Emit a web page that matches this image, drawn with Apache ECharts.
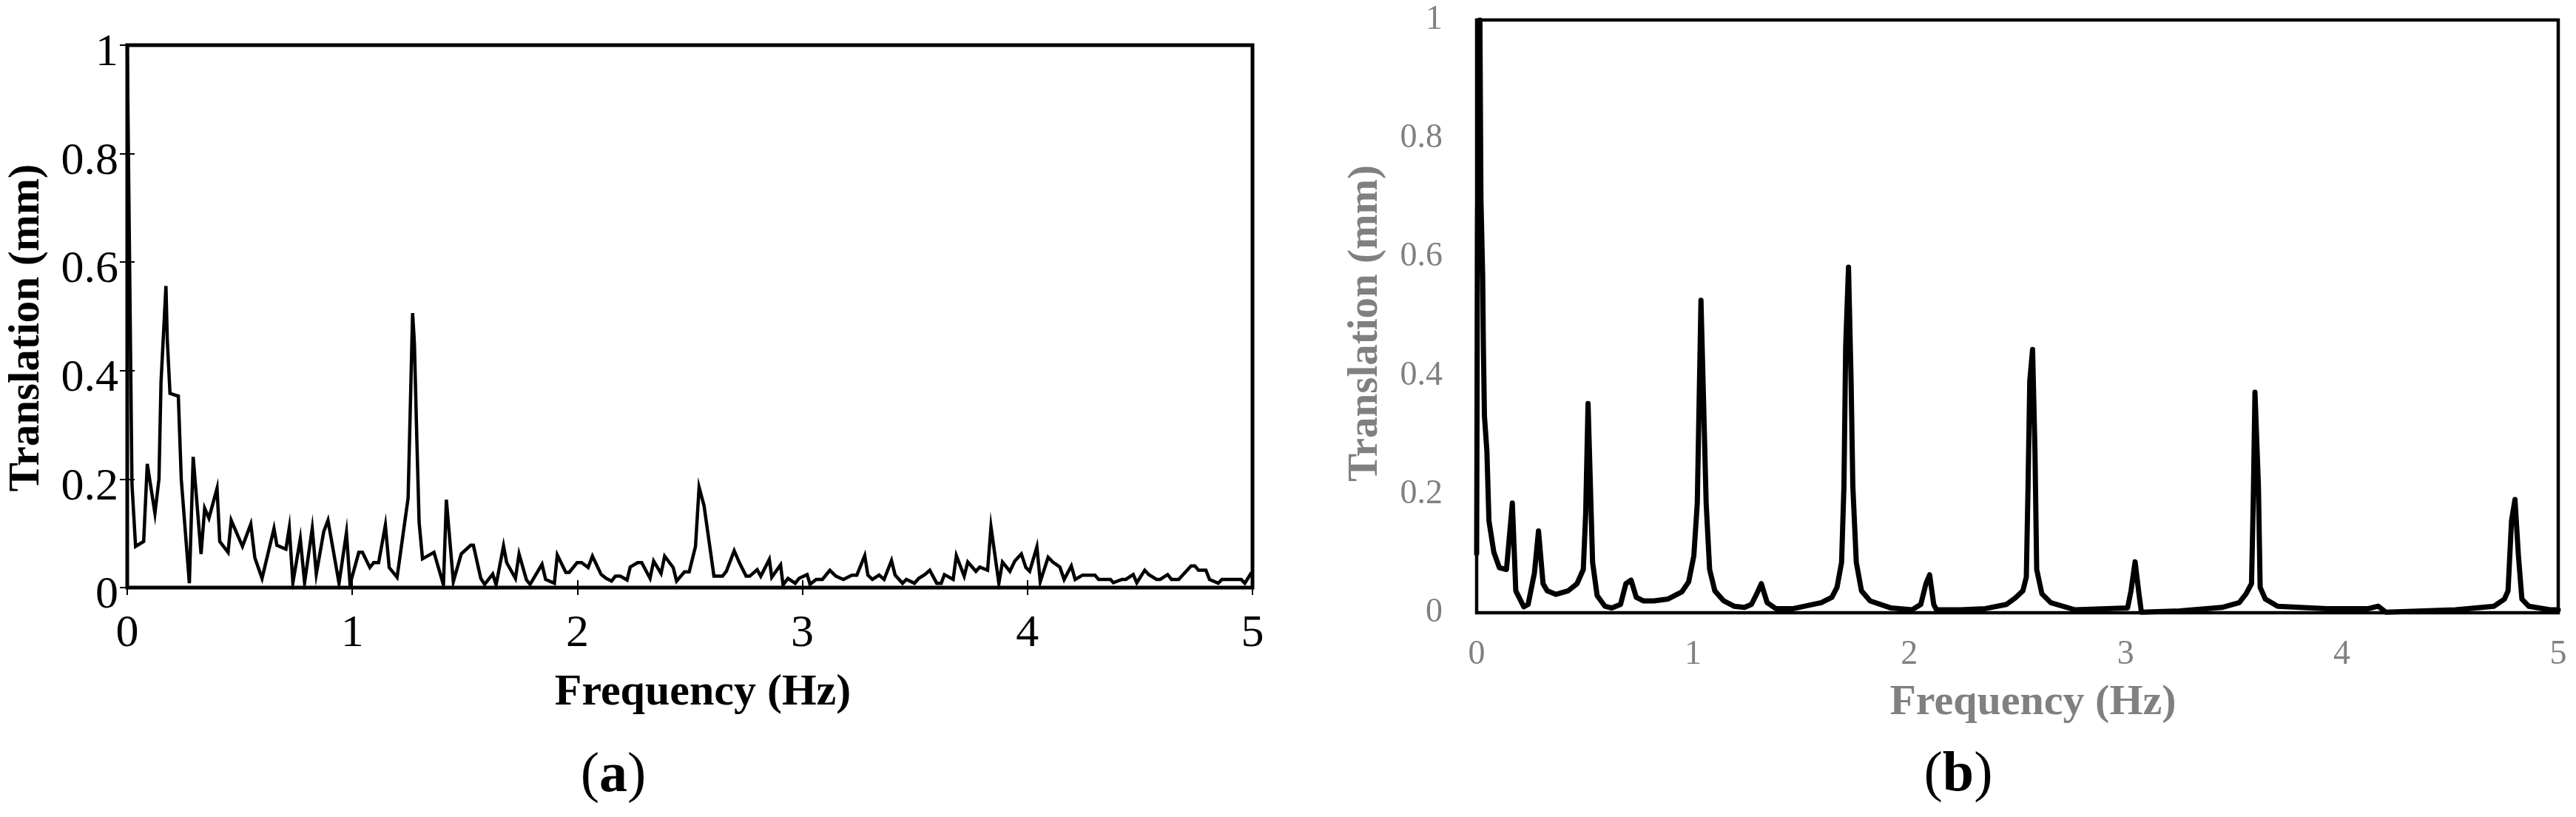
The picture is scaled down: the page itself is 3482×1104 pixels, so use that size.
<!DOCTYPE html>
<html>
<head>
<meta charset="utf-8">
<script src="https://cdn.jsdelivr.net/npm/echarts@6/dist/echarts.min.js"></script>
<style>
html,body{margin:0;padding:0;background:#fff;}
#chart{width:3482px;height:1104px;}
</style>
</head>
<body>
<div id="chart"></div>
<script>
// ---- Panel (a): measured spectrum ----
const freqA = [0,0.021,0.037,0.073,0.089,0.123,0.141,0.150,0.172,0.178,0.19,0.227,0.24,0.276,0.293,0.328,0.344,0.363,0.399,0.411,0.448,0.462,0.512,0.549,0.567,0.599,0.652,0.665,0.705,0.72,0.736,0.769,0.788,0.822,0.84,0.873,0.892,0.941,0.974,0.99,1.029,1.045,1.078,1.095,1.117,1.147,1.164,1.199,1.248,1.268,1.276,1.287,1.297,1.312,1.363,1.405,1.418,1.449,1.484,1.526,1.538,1.571,1.588,1.624,1.639,1.672,1.686,1.725,1.741,1.774,1.79,1.843,1.859,1.898,1.911,1.949,1.964,1.999,2.019,2.048,2.067,2.106,2.128,2.152,2.169,2.191,2.221,2.235,2.268,2.286,2.323,2.339,2.372,2.388,2.426,2.441,2.476,2.497,2.525,2.541,2.563,2.607,2.645,2.662,2.697,2.72,2.75,2.766,2.799,2.815,2.853,2.864,2.903,2.914,2.936,2.968,2.985,3.021,3.034,3.061,3.089,3.122,3.149,3.182,3.22,3.242,3.277,3.291,3.311,3.341,3.363,3.396,3.412,3.445,3.462,3.498,3.517,3.544,3.566,3.597,3.617,3.631,3.670,3.684,3.719,3.735,3.771,3.788,3.823,3.838,3.873,3.889,3.922,3.944,3.973,3.993,4.01,4.042,4.057,4.092,4.113,4.144,4.163,4.195,4.212,4.245,4.3,4.316,4.369,4.382,4.42,4.437,4.47,4.486,4.521,4.539,4.574,4.59,4.623,4.64,4.672,4.727,4.744,4.76,4.793,4.809,4.848,4.864,4.95,4.966,4.996];
const ampA = [1.0,0.19,0.076,0.085,0.228,0.137,0.20,0.378,0.556,0.456,0.358,0.353,0.20,0.008,0.241,0.062,0.146,0.128,0.183,0.085,0.065,0.124,0.076,0.117,0.055,0.017,0.109,0.078,0.071,0.11,0.009,0.09,0.009,0.109,0.025,0.103,0.124,0.008,0.101,0.006,0.065,0.065,0.037,0.046,0.046,0.115,0.037,0.019,0.165,0.506,0.45,0.27,0.12,0.053,0.065,0.005,0.162,0.011,0.062,0.078,0.078,0.017,0.006,0.025,0.005,0.077,0.046,0.017,0.062,0.014,0.006,0.043,0.015,0.008,0.06,0.028,0.028,0.046,0.046,0.037,0.058,0.024,0.017,0.012,0.021,0.021,0.014,0.038,0.046,0.046,0.017,0.049,0.026,0.058,0.037,0.012,0.029,0.029,0.076,0.185,0.151,0.021,0.021,0.03,0.068,0.046,0.021,0.021,0.033,0.021,0.052,0.019,0.042,0.005,0.017,0.008,0.017,0.024,0.006,0.015,0.015,0.032,0.021,0.015,0.023,0.023,0.059,0.023,0.015,0.023,0.015,0.05,0.023,0.008,0.015,0.008,0.017,0.024,0.032,0.008,0.008,0.024,0.015,0.059,0.021,0.047,0.03,0.038,0.032,0.112,0.008,0.047,0.03,0.049,0.062,0.037,0.03,0.075,0.011,0.056,0.047,0.038,0.015,0.04,0.015,0.023,0.023,0.015,0.015,0.009,0.015,0.015,0.024,0.009,0.032,0.024,0.015,0.015,0.024,0.015,0.015,0.04,0.04,0.032,0.032,0.015,0.008,0.015,0.015,0.008,0.028];

// ---- Panel (b): computed spectrum ----
const freqB = [0,0.004,0.01,0.015,0.0198,0.0279,0.0311,0.036,0.0473,0.0569,0.0795,0.105,0.138,0.165,0.181,0.218,0.238,0.267,0.286,0.307,0.326,0.367,0.423,0.464,0.493,0.504,0.515,0.536,0.557,0.593,0.625,0.665,0.69,0.714,0.738,0.77,0.819,0.883,0.948,0.98,1.004,1.02,1.037,1.061,1.077,1.101,1.142,1.19,1.238,1.27,1.295,1.316,1.343,1.383,1.464,1.593,1.642,1.666,1.687,1.698,1.706,1.719,1.731,1.739,1.755,1.779,1.819,1.916,2.013,2.053,2.077,2.094,2.113,2.126,2.239,2.352,2.449,2.49,2.525,2.541,2.549,2.557,2.570,2.581,2.589,2.613,2.654,2.766,3.009,3.025,3.044,3.06,3.073,3.251,3.445,3.525,3.557,3.582,3.59,3.598,3.614,3.622,3.646,3.703,3.929,4.122,4.168,4.203,4.525,4.703,4.751,4.768,4.784,4.8,4.816,4.832,4.864,4.962,5.0];
const ampB = [0.1,0.65,0.9,1.0,0.698,0.568,0.45,0.332,0.273,0.155,0.102,0.076,0.073,0.185,0.037,0.01,0.014,0.067,0.138,0.049,0.037,0.031,0.037,0.049,0.073,0.167,0.353,0.085,0.029,0.011,0.008,0.014,0.049,0.055,0.026,0.02,0.02,0.023,0.035,0.052,0.096,0.185,0.527,0.185,0.073,0.037,0.02,0.011,0.009,0.014,0.032,0.049,0.017,0.007,0.007,0.017,0.026,0.043,0.085,0.214,0.45,0.583,0.391,0.214,0.085,0.037,0.02,0.008,0.005,0.014,0.049,0.064,0.014,0.005,0.005,0.007,0.014,0.025,0.037,0.06,0.214,0.391,0.444,0.273,0.073,0.032,0.017,0.005,0.008,0.037,0.086,0.037,0.001,0.003,0.009,0.017,0.032,0.049,0.185,0.372,0.214,0.043,0.023,0.011,0.007,0.007,0.011,0.001,0.005,0.011,0.023,0.037,0.155,0.191,0.096,0.023,0.011,0.005,0.005];

const xTicks = [0,1,2,3,4,5];
const yTicks = [0,0.2,0.4,0.6,0.8,1];
const xTitle = 'Frequency (Hz)';
const yTitle = 'Translation (mm)';

const serif = 'Liberation Serif';
const grey = '#808080';
const pairs = (xs, ys) => xs.map((x, i) => [x, ys[i]]);
const fmt = v => String(v);

const chart = echarts.init(document.getElementById('chart'), null, {renderer: 'canvas'});

const tickIn = {show: true, inside: true, length: 10, lineStyle: {color: '#000', width: 2}};

chart.setOption({
  animation: false,
  backgroundColor: '#fff',
  grid: [
    {left: 172, top: 61, width: 1521, height: 733, show: true, borderColor: '#000', borderWidth: 5, backgroundColor: 'transparent'},
    {left: 1996, top: 27, width: 1462, height: 801, show: true, borderColor: '#000', borderWidth: 4.5, backgroundColor: 'transparent'}
  ],
  xAxis: [
    {gridIndex: 0, type: 'value', min: xTicks[0], max: xTicks[xTicks.length-1], interval: 1, position: 'bottom',
     axisLine: {show: false}, axisTick: tickIn, splitLine: {show: false},
     axisLabel: {fontFamily: serif, fontSize: 62, color: '#000', margin: 32, formatter: fmt}},
    {gridIndex: 0, type: 'value', min: 0, max: 5, interval: 1, position: 'top',
     axisLine: {show: false}, axisTick: tickIn, splitLine: {show: false}, axisLabel: {show: false}},
    {gridIndex: 1, type: 'value', min: 0, max: 5, interval: 1, position: 'bottom',
     axisLine: {show: false}, axisTick: {show: false}, splitLine: {show: false},
     axisLabel: {fontFamily: serif, fontSize: 46, color: grey, margin: 34, formatter: fmt}}
  ],
  yAxis: [
    {gridIndex: 0, type: 'value', min: yTicks[0], max: yTicks[yTicks.length-1], interval: 0.2, position: 'left',
     axisLine: {show: false}, axisTick: tickIn, splitLine: {show: false},
     axisLabel: {fontFamily: serif, fontSize: 62, color: '#000', margin: 12, verticalAlign: 'middle', lineHeight: 22,
       formatter: v => '\n' + String(v)}},
    {gridIndex: 0, type: 'value', min: 0, max: 1, interval: 0.2, position: 'right',
     axisLine: {show: false}, axisTick: tickIn, splitLine: {show: false}, axisLabel: {show: false}},
    {gridIndex: 1, type: 'value', min: 0, max: 1, interval: 0.2, position: 'left',
     axisLine: {show: false}, axisTick: {show: false}, splitLine: {show: false},
     axisLabel: {fontFamily: serif, fontSize: 46, color: grey, margin: 46, formatter: fmt}}
  ],
  series: [
    {type: 'line', xAxisIndex: 0, yAxisIndex: 0, data: pairs(freqA, ampA), symbol: 'none', clip: true,
     lineStyle: {color: '#000', width: 4.5, join: 'miter'}},
    {type: 'line', xAxisIndex: 2, yAxisIndex: 2, data: pairs(freqB, ampB), symbol: 'none', clip: true,
     lineStyle: {color: '#000', width: 7, join: 'round', cap: 'round'}}
  ],
  graphic: [
    {type: 'text', x: 37, y: 443, rotation: Math.PI/2,
     style: {text: yTitle, font: 'bold 59px "Liberation Serif"', fill: '#000', textAlign: 'center', textVerticalAlign: 'middle'}},
    {type: 'text', x: 950, y: 936,
     style: {text: xTitle, font: 'bold 60px "Liberation Serif"', fill: '#000', textAlign: 'center', textVerticalAlign: 'middle'}},
    {type: 'text', x: 829, y: 1049,
     style: {text: '{r|(}{b|a}{r|)}', textAlign: 'center', textVerticalAlign: 'middle',
       rich: {r: {fontFamily: serif, fontSize: 76, fill: '#000'}, b: {fontFamily: serif, fontSize: 76, fontWeight: 'bold', fill: '#000'}}}},
    {type: 'text', x: 1846, y: 437, rotation: Math.PI/2,
     style: {text: yTitle, font: 'bold 57px "Liberation Serif"', fill: grey, textAlign: 'center', textVerticalAlign: 'middle'}},
    {type: 'text', x: 2748, y: 950,
     style: {text: xTitle, font: 'bold 58px "Liberation Serif"', fill: grey, textAlign: 'center', textVerticalAlign: 'middle'}},
    {type: 'text', x: 2647, y: 1048,
     style: {text: '{r|(}{b|b}{r|)}', textAlign: 'center', textVerticalAlign: 'middle',
       rich: {r: {fontFamily: serif, fontSize: 76, fill: '#000'}, b: {fontFamily: serif, fontSize: 76, fontWeight: 'bold', fill: '#000'}}}}
  ]
});
</script>
</body>
</html>
